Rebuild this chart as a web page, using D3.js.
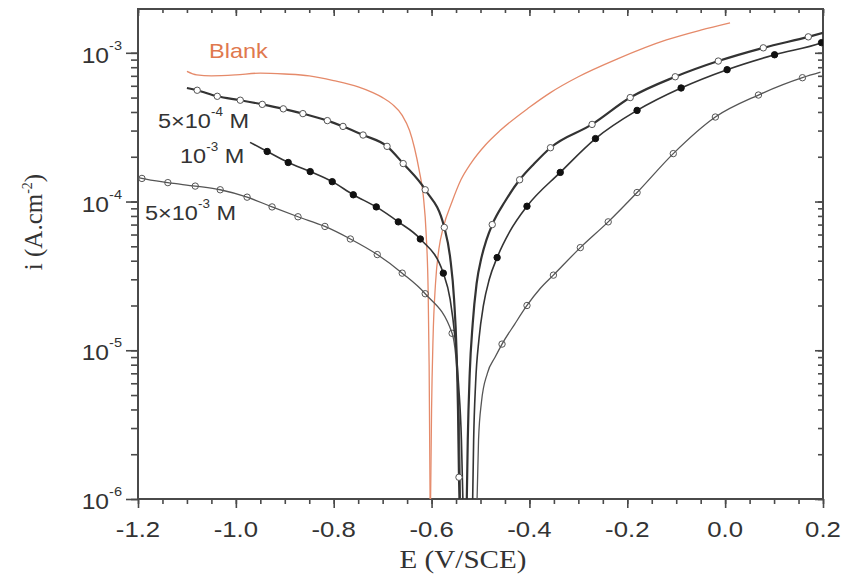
<!DOCTYPE html>
<html>
<head>
<meta charset="utf-8">
<script src="https://cdn.jsdelivr.net/npm/d3@7"></script>
<style>
  body { margin: 0; background: #fff; }
  svg { display: block; }
</style>
</head>
<body>
<div id="chart"></div>
<script>
"use strict";

// E (V/SCE), i (A/cm2), marker flag
const blankCathodic = [[-1.10,7.5e-4],[-1.08,7.1e-4],[-1.05,7.0e-4],[-1.0,7.1e-4],[-0.95,7.3e-4],[-0.90,7.2e-4],
  [-0.85,7.0e-4],[-0.80,6.5e-4],[-0.75,5.9e-4],[-0.72,5.4e-4],[-0.70,5.0e-4],[-0.68,4.5e-4],[-0.66,3.8e-4],
  [-0.645,3.0e-4],[-0.635,2.3e-4],[-0.625,1.6e-4],[-0.617,1.1e-4],[-0.611,6e-5],[-0.607,2.5e-5],[-0.605,8e-6],
  [-0.603,1e-6]];
const blankAnodic = [[-0.602,1e-6],[-0.600,4e-6],[-0.597,1.2e-5],[-0.592,2.8e-5],[-0.585,4.8e-5],[-0.576,6.7e-5],
  [-0.558,1.0e-4],[-0.54,1.4e-4],[-0.52,1.8e-4],[-0.49,2.4e-4],[-0.46,3.0e-4],[-0.40,4.3e-4],[-0.357,5.4e-4],
  [-0.30,6.9e-4],[-0.22,9.1e-4],[-0.12,1.22e-3],[-0.05,1.42e-3],[0.01,1.59e-3]];

const c5e4Cathodic = [[-1.10,5.8e-4,0],[-1.079,5.6e-4,1],[-1.038,5.1e-4,1],[-0.991,4.8e-4,1],[-0.946,4.5e-4,1],
  [-0.903,4.2e-4,1],[-0.863,3.9e-4,1],[-0.813,3.5e-4,1],[-0.781,3.2e-4,1],[-0.740,2.8e-4,1],[-0.691,2.35e-4,1],
  [-0.658,1.8e-4,1],[-0.613,1.2e-4,1],[-0.574,6.7e-5,1],[-0.562,4.2e-5,0],[-0.554,2.2e-5,0],[-0.549,1e-5,0],
  [-0.546,4e-6,0],[-0.544,1.4e-6,1],[-0.543,1e-6,0]];
const c5e4Anodic = [[-0.528,1e-6,0],[-0.526,2.5e-6,0],[-0.522,7e-6,0],[-0.516,1.5e-5,0],[-0.508,2.8e-5,0],
  [-0.498,4.2e-5,0],[-0.488,5.5e-5,0],[-0.476,7.0e-5,1],[-0.45,1.0e-4,0],[-0.42,1.4e-4,1],[-0.39,1.8e-4,0],
  [-0.357,2.3e-4,1],[-0.272,3.3e-4,1],[-0.194,5.0e-4,1],[-0.102,6.9e-4,1],[-0.014,8.8e-4,1],[0.078,1.08e-3,1],
  [0.170,1.28e-3,1],[0.200,1.36e-3,0]];

const c1e3Cathodic = [[-0.971,2.5e-4,0],[-0.936,2.17e-4,1],[-0.893,1.83e-4,1],[-0.848,1.59e-4,1],[-0.803,1.36e-4,1],
  [-0.760,1.11e-4,1],[-0.713,9.2e-5,1],[-0.668,7.3e-5,1],[-0.623,5.6e-5,1],[-0.576,3.3e-5,1],[-0.562,2.2e-5,0],
  [-0.552,1.2e-5,0],[-0.545,6e-6,0],[-0.539,2.5e-6,0],[-0.536,1e-6,0]];
const c1e3Anodic = [[-0.516,1e-6,0],[-0.514,2.5e-6,0],[-0.510,6e-6,0],[-0.503,1.2e-5,0],[-0.494,2e-5,0],
  [-0.482,3e-5,0],[-0.466,4.2e-5,1],[-0.440,6.3e-5,0],[-0.405,9.3e-5,1],[-0.337,1.57e-4,1],[-0.265,2.65e-4,1],
  [-0.180,4.1e-4,1],[-0.090,5.8e-4,1],[0.004,7.7e-4,1],[0.101,9.7e-4,1],[0.197,1.17e-3,1],[0.200,1.18e-3,0]];

const c5e3Cathodic = [[-1.20,1.45e-4,0],[-1.192,1.43e-4,1],[-1.139,1.34e-4,1],[-1.083,1.27e-4,1],[-1.032,1.2e-4,1],
  [-0.977,1.07e-4,1],[-0.926,9.2e-5,1],[-0.873,7.9e-5,1],[-0.818,6.8e-5,1],[-0.766,5.6e-5,1],[-0.711,4.4e-5,1],
  [-0.660,3.3e-5,1],[-0.613,2.4e-5,1],[-0.558,1.3e-5,1],[-0.548,7e-6,0],[-0.543,3e-6,0],[-0.541,1e-6,0]];
const c5e3Anodic = [[-0.507,1e-6,0],[-0.504,2.5e-6,0],[-0.498,4.5e-6,0],[-0.486,7e-6,0],[-0.470,9e-6,0],
  [-0.456,1.1e-5,1],[-0.43,1.5e-5,0],[-0.405,2.0e-5,1],[-0.378,2.6e-5,0],[-0.351,3.2e-5,1],[-0.296,4.9e-5,1],
  [-0.239,7.3e-5,1],[-0.180,1.15e-4,1],[-0.106,2.1e-4,1],[-0.020,3.7e-4,1],[0.068,5.2e-4,1],[0.158,6.8e-4,1],
  [0.195,7.4e-4,0]];

const xTicks = [-1.2,-1.0,-0.8,-0.6,-0.4,-0.2,0.0,0.2];
const yTicks = [1e-6,1e-5,1e-4,1e-3];

const W = 847, H = 578;
const mLeft = 138, mRight = 823, mTop = 9, mBottom = 499;
const stretch = 1.12;

const x = d3.scaleLinear().domain([-1.2,0.2]).range([mLeft,mRight]);
const y = d3.scaleLog().domain([1e-6,1.97e-3]).range([mBottom,mTop]);

const svg = d3.select("#chart").append("svg")
  .attr("width", W).attr("height", H);

svg.append("clipPath").attr("id","plot")
  .append("rect").attr("x",mLeft).attr("y",mTop).attr("width",mRight-mLeft).attr("height",mBottom-mTop);

const minorX = d3.range(-1.2, 0.2001, 0.05).map(v => +v.toFixed(2));
const minorY = y.ticks().filter(v => v >= 1e-6);

// axes
const axisColor = "#4a4a4a";
function styleAxis(g){
  g.select(".domain").remove();
  g.selectAll("line").attr("stroke", axisColor).attr("stroke-width", 1.6);
  g.selectAll("text").remove();
}
svg.append("g").attr("transform",`translate(0,${mBottom})`)
  .call(d3.axisBottom(x).tickValues(minorX).tickSize(5)).call(styleAxis);
svg.append("g").attr("transform",`translate(0,${mBottom})`)
  .call(d3.axisBottom(x).tickValues(xTicks).tickSize(9)).call(styleAxis);
svg.append("g").attr("transform",`translate(0,${mTop})`)
  .call(d3.axisTop(x).tickValues(minorX).tickSize(-4)).call(styleAxis);
svg.append("g").attr("transform",`translate(0,${mTop})`)
  .call(d3.axisTop(x).tickValues(xTicks).tickSize(-7)).call(styleAxis);
svg.append("g").attr("transform",`translate(${mLeft},0)`)
  .call(d3.axisLeft(y).tickValues(minorY).tickSize(7)).call(styleAxis);
svg.append("g").attr("transform",`translate(${mLeft},0)`)
  .call(d3.axisLeft(y).tickValues(yTicks).tickSize(12)).call(styleAxis);
svg.append("g").attr("transform",`translate(${mRight},0)`)
  .call(d3.axisRight(y).tickValues(minorY).tickSize(-5)).call(styleAxis);
svg.append("g").attr("transform",`translate(${mRight},0)`)
  .call(d3.axisRight(y).tickValues(yTicks).tickSize(-8)).call(styleAxis);

svg.append("rect")
  .attr("x",mLeft).attr("y",mTop).attr("width",mRight-mLeft).attr("height",mBottom-mTop)
  .attr("fill","none").attr("stroke",axisColor).attr("stroke-width",2);

// tick labels
const font = "'Liberation Sans', Arial, sans-serif";
svg.append("g").selectAll("text").data(xTicks).join("text")
  .attr("transform", d => `translate(${x(d)},${mBottom+38}) scale(${stretch},1)`)
  .attr("text-anchor","middle")
  .style("font", `23px ${font}`).attr("fill","#333")
  .text(d => d.toFixed(1));

const yl = svg.append("g").selectAll("text").data(yTicks).join("text")
  .attr("transform", d => `translate(${mLeft-16},${y(d)+10}) scale(${stretch},1)`)
  .attr("text-anchor","end")
  .style("font", `22px ${font}`).attr("fill","#333");
yl.append("tspan").text("10");
yl.append("tspan").attr("dy",-13).style("font-size","13px").text(d => "-" + (-Math.log10(d)).toFixed(0));

// axis titles
const serif = "'Liberation Serif', 'Times New Roman', serif";
svg.append("text")
  .attr("transform",`translate(463,568) scale(${stretch},1)`)
  .attr("text-anchor","middle")
  .style("font",`26px ${serif}`).attr("fill","#333")
  .text("E (V/SCE)");

const yt = svg.append("text")
  .attr("transform",`translate(42,222) rotate(-90)`)
  .attr("text-anchor","middle")
  .style("font",`25px ${serif}`).attr("fill","#333");
yt.append("tspan").text("i (A.cm");
yt.append("tspan").attr("dy",-10).style("font-size","14px").text("-2");
yt.append("tspan").attr("dy",10).text(")");

// curves
const line = d3.line().x(d => x(d[0])).y(d => y(d[1])).curve(d3.curveMonotoneX);
const plot = svg.append("g").attr("clip-path","url(#plot)");

const orange = "#e58a6a";
[blankCathodic, blankAnodic].forEach(s => {
  plot.append("path").datum(s).attr("d",line)
    .attr("fill","none").attr("stroke",orange).attr("stroke-width",1.3);
});

const series = [
  {data:[c5e3Cathodic,c5e3Anodic], width:1.3, stroke:"#555", mfill:"none", mstroke:"#555"},
  {data:[c1e3Cathodic,c1e3Anodic], width:1.6, stroke:"#333", mfill:"#111", mstroke:"#111"},
  {data:[c5e4Cathodic,c5e4Anodic], width:2.2, stroke:"#333", mfill:"#fff", mstroke:"#555"}
];
series.forEach(s => {
  s.data.forEach(branch => {
    plot.append("path").datum(branch).attr("d",line)
      .attr("fill","none").attr("stroke",s.stroke).attr("stroke-width",s.width);
    plot.append("g").selectAll("circle").data(branch.filter(d => d[2])).join("circle")
      .attr("cx", d => x(d[0])).attr("cy", d => y(d[1])).attr("r",3.2)
      .attr("fill",s.mfill).attr("stroke",s.mstroke).attr("stroke-width",1);
  });
});

// labels
svg.append("text")
  .attr("transform",`translate(209,58) scale(${stretch},1)`)
  .style("font",`21px ${font}`).attr("fill","#e0784e")
  .text("Blank");

const labels = [
  {x:158, y:128, pre:"5\u00d710", exp:"-4"},
  {x:180, y:163, pre:"10", exp:"-3"},
  {x:145, y:220, pre:"5\u00d710", exp:"-3"}
];
labels.forEach(l => {
  const t = svg.append("text")
    .attr("transform",`translate(${l.x},${l.y}) scale(${stretch},1)`)
    .style("font",`21px ${font}`).attr("fill","#333");
  t.append("tspan").text(l.pre);
  t.append("tspan").attr("dy",-12).style("font-size","12px").text(l.exp);
  t.append("tspan").attr("dy",12).text(" M");
});
</script>
</body>
</html>
